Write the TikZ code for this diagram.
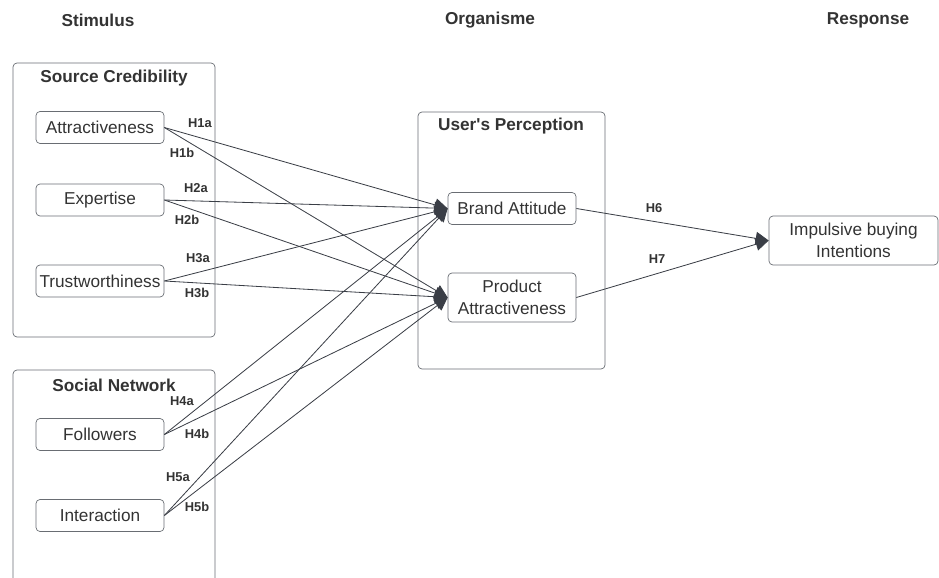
\documentclass[tikz,border=0pt]{standalone}
\usepackage{fontspec}
\setmainfont{Liberation Sans}
\usetikzlibrary{arrows.meta}
\definecolor{linegray}{RGB}{58,62,70}
\definecolor{boxgray}{RGB}{105,109,115}
\definecolor{txtgray}{RGB}{51,51,51}

\begin{document}
\begin{tikzpicture}[
  x=0.3mm, y=-0.3mm,
  var/.style={draw=boxgray, line width=0.6pt, rounded corners=1.2mm, minimum width=38.4mm,
    minimum height=9.6mm, inner sep=0pt, align=center, text=txtgray,
    font=\fontsize{14.7}{18.5}\selectfont},
  grp/.style={draw=boxgray, rounded corners=1.2mm, line width=0.6pt},
  ttl/.style={text=txtgray, font=\fontsize{14.7}{18}\selectfont\bfseries},
  hyp/.style={text=txtgray, font=\fontsize{11}{13}\selectfont\bfseries},
  arr/.style={draw=linegray, line width=0.7pt, -{Triangle[length=3.9mm, width=3.9mm]}},
]
\useasboundingbox (0,0) rectangle (939,578);
%\draw[gray, help lines, step=50] (0,0) grid (939,578);

% column headings
\node[ttl] (stim) at (98,20) {Stimulus};
\node[ttl] (org)  at (490,20) {Organisme};
\node[ttl] (resp) at (868,20) {Response};

% group boxes
\draw[grp] (13,63) rectangle (215,337);
\node[ttl] (source) at (114,78) {Source Credibility};
\draw[grp] (13,370) rectangle (215,600);
\node[ttl] (social) at (114,385) {Social Network};
\draw[grp] (418,112) rectangle (605,369);
\node[ttl] (percep) at (511,126) {User\textquotesingle s Perception};

% variables
\node[var] (attr)   at (100,127.5) {Attractiveness};
\node[var] (expert) at (100,200)   {Expertise};
\node[var] (trust)  at (100,281)   {Trustworthiness};
\node[var] (follow) at (100,434.5) {Followers};
\node[var] (inter)  at (100,515.5) {Interaction};
\node[var] (brand)  at (512,208.5) {Brand Attitude};
\node[var, minimum height=14.7mm] (prod) at (512,297.5) {Product\\Attractiveness};
\node[var, minimum width=50.7mm, minimum height=14.7mm] (impul) at (853.5,240.5)
  {Impulsive buying\\Intentions};

% paths
\draw[arr] (attr.east)   -- (brand.west);
\draw[arr] (attr.east)   -- (prod.west);
\draw[arr] (expert.east) -- (brand.west);
\draw[arr] (expert.east) -- (prod.west);
\draw[arr] (trust.east)  -- (brand.west);
\draw[arr] (trust.east)  -- (prod.west);
\draw[arr] (follow.east) -- (brand.west);
\draw[arr] (follow.east) -- (prod.west);
\draw[arr] (inter.east)  -- (brand.west);
\draw[arr] (inter.east)  -- (prod.west);
\draw[arr] (brand.east)  -- (impul.west);
\draw[arr] (prod.east)   -- (impul.west);

% hypotheses
\node[hyp] (h1a) at (200,123) {H1a};
\node[hyp] (h1b) at (182,153) {H1b};
\node[hyp] (h2a) at (196,188) {H2a};
\node[hyp] (h2b) at (187,220) {H2b};
\node[hyp] (h3a) at (198,258) {H3a};
\node[hyp] (h3b) at (197,293) {H3b};
\node[hyp] (h4a) at (182,401) {H4a};
\node[hyp] (h4b) at (197,434) {H4b};
\node[hyp] (h5a) at (178,477) {H5a};
\node[hyp] (h5b) at (197,507) {H5b};
\node[hyp] (h6)  at (654,208) {H6};
\node[hyp] (h7)  at (657,259) {H7};
\end{tikzpicture}
\end{document}
